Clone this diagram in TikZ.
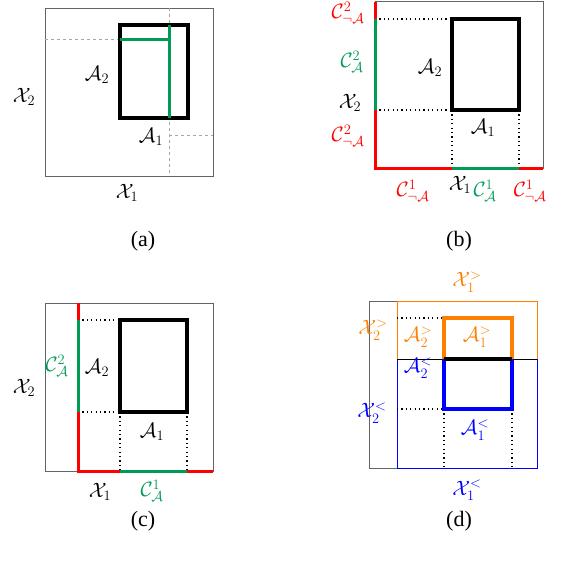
\documentclass[tikz,border=0pt]{standalone}
\usepackage{fontspec}
\setmainfont{Liberation Serif}
\definecolor{mygreen}{RGB}{0,155,85}
\definecolor{myorange}{RGB}{255,128,0}
\definecolor{boxgray}{RGB}{100,100,100}
\begin{document}
\begin{tikzpicture}[x=1pt,y=-1pt,
  font=\fontsize{20.74}{24}\selectfont,
  outerbox/.style={draw=boxgray,line width=0.9pt},
  setrect/.style={draw=black,line width=3.2pt},
  dashline/.style={draw=gray!70,dashed,line width=0.9pt},
  dotline/.style={draw=black,line width=1.4pt,dash pattern=on 1.2pt off 3.2pt},
  redl/.style={draw=red,line width=3pt},
  grnl/.style={draw=mygreen,line width=3pt},
  thinl/.style={line width=0.9pt},
  thickl/.style={line width=3.2pt},
  lbl/.style={inner sep=0pt},
  captext/.style={inner sep=0pt,font=\fontsize{22}{26}\selectfont},
]
\useasboundingbox (0,0) rectangle (564,562);
% ---------------- (a)
\draw[outerbox] (45,8) rectangle (213,176);
\draw[dashline] (169,8) -- (169,176);
\draw[dashline] (45,39) -- (120,39);
\draw[dashline] (169,135) -- (213,135);
\draw[setrect] (120,25) rectangle (188,118);
\draw[grnl] (120,39) -- (169,39);
\draw[grnl] (169,25) -- (169,118);
\node[lbl] (ax2) at (24,97) {$\mathcal{X}_2$};
\node[lbl] (aa2) at (97,75) {$\mathcal{A}_2$};
\node[lbl] (aa1) at (151,137) {$\mathcal{A}_1$};
\node[lbl] (ax1) at (127,193) {$\mathcal{X}_1$};
\node[captext] (capa) at (143,241) {(a)};
% ---------------- (b)
\draw[outerbox] (375,1.5) rectangle (543,168);
\draw[setrect] (452,19) rectangle (519,110);
\draw[dotline] (375,19) -- (452,19);
\draw[dotline] (375,110) -- (452,110);
\draw[dotline] (452,110) -- (452,168);
\draw[dotline] (519,110) -- (519,168);
\draw[redl] (375,1.5) -- (375,19);
\draw[grnl] (375,19) -- (375,110);
\draw[redl] (375,110) -- (375,168) -- (452,168);
\draw[grnl] (452,168) -- (519,168);
\draw[redl] (519,168) -- (543,168);
\node[lbl,red] (bn2t) at (348,13) {$\mathcal{C}^2_{\neg\mathcal{A}}$};
\node[lbl,mygreen] (bc2) at (352,62) {$\mathcal{C}^2_{\mathcal{A}}$};
\node[lbl] (bx2) at (350,103) {$\mathcal{X}_2$};
\node[lbl,red] (bn2b) at (348,136) {$\mathcal{C}^2_{\neg\mathcal{A}}$};
\node[lbl] (ba2) at (430,68) {$\mathcal{A}_2$};
\node[lbl] (ba1) at (483,128) {$\mathcal{A}_1$};
\node[lbl,red] (bn1l) at (413,191) {$\mathcal{C}^1_{\neg\mathcal{A}}$};
\node[lbl] (bx1) at (460,185) {$\mathcal{X}_1$};
\node[lbl,mygreen] (bc1) at (485,191) {$\mathcal{C}^1_{\mathcal{A}}$};
\node[lbl,red] (bn1r) at (530,191) {$\mathcal{C}^1_{\neg\mathcal{A}}$};
\node[captext] (capb) at (459,241) {(b)};
% ---------------- (c)
\draw[outerbox] (45,303) rectangle (213,471);
\draw[setrect] (120,320) rectangle (187,412);
\draw[dotline] (78,320) -- (120,320);
\draw[dotline] (78,412) -- (120,412);
\draw[dotline] (120,412) -- (120,471);
\draw[dotline] (187,412) -- (187,471);
\draw[redl] (78,303) -- (78,320);
\draw[grnl] (78,320) -- (78,412);
\draw[redl] (78,412) -- (78,471) -- (120,471);
\draw[grnl] (120,471) -- (187,471);
\draw[redl] (187,471) -- (213,471);
\node[lbl] (cx2) at (24,388) {$\mathcal{X}_2$};
\node[lbl,mygreen] (cc2) at (57,366) {$\mathcal{C}^2_{\mathcal{A}}$};
\node[lbl] (ca2) at (97,368) {$\mathcal{A}_2$};
\node[lbl] (ca1) at (152,432) {$\mathcal{A}_1$};
\node[lbl] (cx1) at (100,492) {$\mathcal{X}_1$};
\node[lbl,mygreen] (cc1) at (152,491) {$\mathcal{C}^1_{\mathcal{A}}$};
\node[captext] (capc) at (143,521) {(c)};
% ---------------- (d)
\draw[outerbox] (369,301) rectangle (537,468);
\draw[thinl,draw=myorange] (397,359) -- (397,301) -- (537,301) -- (537,359);
\draw[thinl,draw=blue] (397,359) -- (397,468) -- (537,468) -- (537,359);
\draw[thinl,draw=black] (397,359) -- (537,359);
\draw[dotline] (397,318) -- (444,318);
\draw[dotline] (397,409) -- (444,409);
\draw[dotline] (444,409) -- (444,468);
\draw[dotline] (512,409) -- (512,468);
\draw[thickl,draw=myorange] (444,359) -- (444,318) -- (512,318) -- (512,359);
\draw[thickl,draw=blue] (444,359) -- (444,409) -- (512,409) -- (512,359);
\draw[thickl,draw=black] (444,359) -- (512,359);
\node[lbl,myorange] (dx1g) at (467,282) {$\mathcal{X}_1^{>}$};
\node[lbl,myorange] (dx2g) at (373,330) {$\mathcal{X}_2^{>}$};
\node[lbl,myorange] (da2g) at (418,337) {$\mathcal{A}_2^{>}$};
\node[lbl,myorange] (da1g) at (477,337) {$\mathcal{A}_1^{>}$};
\node[lbl,blue] (da2l) at (418,368) {$\mathcal{A}_2^{<}$};
\node[lbl,blue] (dx2l) at (372,413) {$\mathcal{X}_2^{<}$};
\node[lbl,blue] (da1l) at (475,430) {$\mathcal{A}_1^{<}$};
\node[lbl,blue] (dx1l) at (467,490) {$\mathcal{X}_1^{<}$};
\node[captext] (capd) at (459,521) {(d)};
\end{tikzpicture}
\end{document}
